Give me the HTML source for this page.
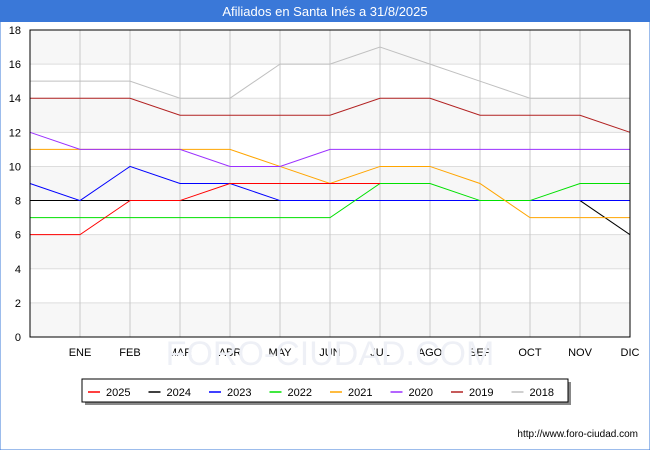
<!DOCTYPE html>
<html><head><meta charset="utf-8"><style>
body{margin:0;width:650px;height:450px;background:#fff;font-family:"Liberation Sans",sans-serif;overflow:hidden}
</style></head><body>
<svg width="650" height="450" id="svg" font-family="Liberation Sans, sans-serif">
<rect x="0" y="0" width="650" height="450" fill="#fff" stroke="#3a78d8"/>
<rect x="0" y="0" width="650" height="22" fill="#3a78d8"/>
<text x="325" y="16" text-anchor="middle" fill="#fff" font-size="13">Afiliados en Santa Inés a 31/8/2025</text>
<g id="plot"></g>
<text x="330" y="365" text-anchor="middle" font-size="34" fill="#eef0f6">FORO-CIUDAD.COM</text>
<text x="638" y="437" text-anchor="end" font-size="10" fill="#000">http://www.foro-ciudad.com</text>
</svg>
<script>
const categories=["","ENE","FEB","MAR","ABR","MAY","JUN","JUL","AGO","SEP","OCT","NOV","DIC"];
const yTicks=[0,2,4,6,8,10,12,14,16,18];
const seriesNames=["2025","2024","2023","2022","2021","2020","2019","2018"];
const colors=["#ff0000","#000000","#0000ff","#00e000","#ffa500","#9b30ff","#b22222","#c0c0c0"];
const s2025=[6,6,8,8,9,9,9,9,null,null,null,null,null];
const s2024=[8,8,8,8,8,8,8,8,8,8,8,8,6];
const s2023=[9,8,10,9,9,8,8,8,8,8,8,8,8];
const s2022=[7,7,7,7,7,7,7,9,9,8,8,9,9];
const s2021=[11,11,11,11,11,10,9,10,10,9,7,7,7];
const s2020=[12,11,11,11,10,10,11,11,11,11,11,11,11];
const s2019=[14,14,14,13,13,13,13,14,14,13,13,13,12];
const s2018=[15,15,15,14,14,16,16,17,16,15,14,14,14];
const data=[s2025,s2024,s2023,s2022,s2021,s2020,s2019,s2018];
const X0=30,X1=630,Y0=337,Y1=30,yMax=18;
const xs=i=>X0+i*(X1-X0)/(categories.length-1);
const ys=v=>Y0-v*(Y0-Y1)/yMax;
const NS="http://www.w3.org/2000/svg";
const g=document.getElementById('plot');
function mk(t,a){const e=document.createElementNS(NS,t);for(const k in a)e.setAttribute(k,a[k]);g.appendChild(e);return e;}
for(let k=0;k<yTicks.length-1;k++){
 if(k%2===0){const r=mk('rect',{x:X0,y:ys(yTicks[k+1]),width:X1-X0,height:ys(yTicks[k])-ys(yTicks[k+1]),fill:'#f7f7f7'});
 
 }
}
yTicks.forEach(v=>{
 const l=mk('line',{x1:X0,x2:X1,y1:ys(v),y2:ys(v),stroke:'#dddddd'});
 
 
 const t=mk('text',{x:X0-9,y:ys(v)+4,'text-anchor':'end','font-size':11});
 t.textContent=v;
 
 
});
categories.forEach((c,i)=>{
 if(i===0)return;
 const l=mk('line',{x1:xs(i),x2:xs(i),y1:Y1,y2:Y0,stroke:'#c8c8c8'});
 
 
 const t=mk('text',{x:xs(i),y:356,'text-anchor':'middle','font-size':11});
 t.textContent=c;
 
 
});
const order=[1,2,3,4,5,6,7,0];
order.forEach(si=>{
 const d=data[si];let pts=[];
 d.forEach((v,i)=>{if(v!==null)pts.push(xs(i)+','+ys(v));});
 const p=mk('polyline',{points:pts.join(' '),fill:'none',stroke:colors[si],'stroke-width':1});
 
 
});
const ax=mk('rect',{x:X0,y:Y1,width:X1-X0,height:Y0-Y1,fill:'none',stroke:'#000'});


const sh=mk('rect',{x:85,y:382,width:486,height:23,fill:'#888'});


const lb=mk('rect',{x:82,y:379,width:486,height:23,fill:'#fff',stroke:'#000'});


seriesNames.forEach((n,i)=>{
 const x=88+i*60.5;
 const l=mk('line',{x1:x,x2:x+12,y1:392,y2:392,stroke:colors[i],'stroke-width':1.5});
 
 
 const t=mk('text',{x:x+18,y:396,'font-size':11});
 t.textContent=n;
 
 
});
</script>
</body></html>
